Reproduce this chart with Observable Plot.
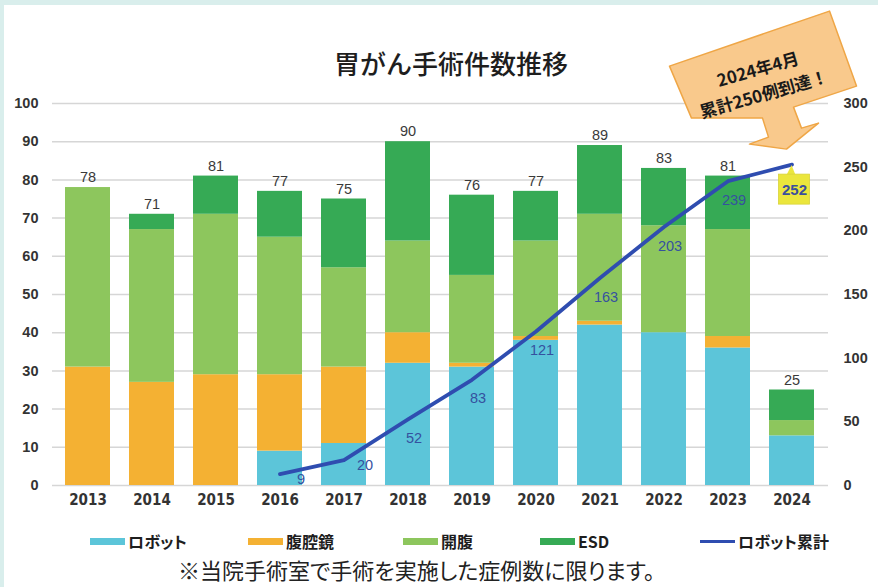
<!DOCTYPE html>
<html>
<head>
<meta charset="utf-8">
<script src="https://cdn.jsdelivr.net/npm/d3@7"></script>
<script src="https://cdn.jsdelivr.net/npm/@observablehq/plot@0.6"></script>
<style>
html,body{margin:0;padding:0;}
body{width:878px;height:587px;background:#d9eeec;position:relative;overflow:hidden;font-family:"Noto Sans CJK JP",sans-serif;}
#card{position:absolute;left:4px;top:5px;right:0;bottom:0;background:#fff;}
#title{position:absolute;left:0;width:902px;top:46px;text-align:center;font-size:26px;line-height:34px;color:#1e1e1e;font-weight:500;}
#chart{position:absolute;left:0;top:90px;}
#chart svg{overflow:visible;}
#chart g[aria-label="x-axis tick label"]{font-family:"DejaVu Sans",sans-serif;font-stretch:condensed;font-weight:bold;font-size:15px;fill:#333;}
#chart g[aria-label="y-axis tick label"]{font-family:"Liberation Sans",sans-serif;font-weight:bold;font-size:14.5px;fill:#333;}
.lg{position:absolute;top:529px;height:24px;display:flex;align-items:center;font-size:16px;font-weight:bold;color:#1e1e1e;font-feature-settings:"palt";}
.sw{width:35px;height:7px;margin-right:3px;}
.ln{width:35px;height:3px;margin-right:3px;}
#caption{position:absolute;left:178px;top:556px;font-size:22px;line-height:26px;color:#222;font-feature-settings:"palt";white-space:nowrap;}
</style>
</head>
<body>
<div id="card"></div>
<div id="title">胃がん手術件数推移</div>
<div id="chart"></div>
<div id="legend"></div>
<div id="caption">※当院手術室で手術を実施した症例数に限ります。</div>
<script>
// ---- data ----
const years = ["2013","2014","2015","2016","2017","2018","2019","2020","2021","2022","2023","2024"];
const seriesNames = ["ロボット","腹腔鏡","開腹","ESD"];
const seriesColors = ["#5cc5d9","#f4b133","#8dc65d","#36aa55"];
const robot = [0,0,0,9,11,32,31,38,42,40,36,13];
const lap   = [31,27,29,20,20,8,1,1,1,0,3,0];
const open  = [47,40,42,36,26,24,23,25,28,28,28,4];
const esd   = [0,4,10,12,18,26,21,13,18,15,14,8];
const totals = [78,71,81,77,75,90,76,77,89,83,81,25];
const cumulative = [null,null,null,9,20,52,83,121,163,203,239,252];
const cumName = "ロボット累計";
const lineColor = "#2f4db0";
const leftTicks = [0,10,20,30,40,50,60,70,80,90,100];
const rightTicks = [0,50,100,150,200,250,300];
const calloutLines = ["2024年4月","累計250例到達！"];

// ---- build tables ----
const seriesValues = [robot, lap, open, esd];
const stackData = [];
seriesNames.forEach((s, k) => years.forEach((y, i) => stackData.push({year: y, series: s, value: seriesValues[k][i]})));
const totalData = years.map((y, i) => ({year: y, total: totals[i]}));
const cumData = years.map((y, i) => ({year: y, cum: cumulative[i]})).filter(d => d.cum != null);
const cumEarly = cumData.slice(0, 2);
const cumMid = cumData.slice(2, cumData.length - 1);
const cumLast = cumData[cumData.length - 1];

const chart = Plot.plot({
  width: 878, height: 430,
  marginTop: 13, marginBottom: 35, marginLeft: 52, marginRight: 50,
  x: {domain: years, paddingInner: 0.29, paddingOuter: 0.15},
  y: {domain: [0, 100]},
  color: {domain: seriesNames, range: seriesColors},
  style: {background: "transparent", color: "#333", fontFamily: "Liberation Sans, sans-serif", overflow: "visible"},
  marks: [
    Plot.gridY(leftTicks, {stroke: "#d6d6d6", strokeOpacity: 1, strokeWidth: 1.5}),
    Plot.barY(stackData, {x: "year", y: "value", fill: "series", order: null}),
    Plot.axisX({tickSize: 0, tickPadding: 9, label: null, fontSize: 15, fontWeight: "bold"}),
    Plot.axisY(leftTicks, {anchor: "left", tickSize: 0, tickPadding: 14, label: null, fontSize: 14.5, fontWeight: "bold"}),
    Plot.axisY(rightTicks.map(v => v / 3), {anchor: "right", tickSize: 0, tickPadding: 15, label: null,
      tickFormat: d => String(Math.round(d * 3)), fontSize: 14.5, fontWeight: "bold"}),
    Plot.text(totalData, {x: "year", y: "total", text: d => String(d.total), dy: -10, fontSize: 14.5, fill: "#3a3a3a"}),
    Plot.text(cumEarly, {x: "year", y: d => d.cum / 3, text: d => String(d.cum), dx: 21, dy: 5, fontSize: 14.5, fill: "#35519f"}),
    Plot.text(cumMid, {x: "year", y: d => d.cum / 3, text: d => String(d.cum), dx: 6, dy: 19, fontSize: 14.5, fill: "#35519f"}),
    Plot.line(cumData, {x: "year", y: d => d.cum / 3, stroke: lineColor, strokeWidth: 3.8})
  ]
});
document.getElementById("chart").appendChild(chart);

// ---- callouts anchored to the last cumulative point ----
const sx = chart.scale("x"), sy = chart.scale("y");
const px = sx.apply(cumLast.year) + (sx.bandwidth || 0) / 2;
const py = sy.apply(cumLast.cum / 3);
const svg = d3.select(chart);
const g = svg.append("g").attr("transform", `translate(${px},${py})`);
// label box for last value
g.append("path").attr("d", "M-5,11 L0,1 L4,11 Z").attr("fill", "#ebe63c");
g.append("rect").attr("x", -13).attr("y", 10).attr("width", 31).attr("height", 30)
  .attr("fill", "#ebe63c").attr("stroke", "#d9d33a").attr("stroke-width", 0.8);
g.append("text").attr("x", 3).attr("y", 25).attr("text-anchor", "middle").attr("dominant-baseline", "central")
  .attr("font-family", "Liberation Sans, sans-serif").attr("font-weight", "bold").attr("font-size", 15)
  .attr("fill", "#3a4f9c").text(String(cumLast.cum));
// orange arrow callout
const pts = [[-122,-98],[38,-153],[65,-78],[2,-57],[10,-36],[27,-41],[-5,-15],[-42,-20],[-23,-27],[-29,-46],[-100,-46]];
g.append("polygon").attr("points", pts.map(p => p.join(",")).join(" "))
  .attr("fill", "#f9c98c").attr("stroke", "#efa646").attr("stroke-width", 1.5).attr("stroke-linejoin", "round");
const tpos = [[-34,-96],[-28,-71]];
calloutLines.forEach((t, i) => {
  g.append("text").attr("transform", `translate(${tpos[i][0]},${tpos[i][1]}) rotate(-16)`)
    .attr("text-anchor", "middle").attr("dominant-baseline", "central")
    .attr("font-family", "Noto Sans CJK JP, sans-serif").attr("font-weight", "bold").attr("font-size", 17)
    .attr("fill", "#1a1a1a").text(t);
});

// ---- legend ----
const legend = document.getElementById("legend");
const legendX = [90, 248, 403, 540, 700];
seriesNames.forEach((s, i) => {
  const d = document.createElement("div");
  d.className = "lg"; d.style.left = legendX[i] + "px";
  d.innerHTML = `<div class="sw" style="background:${seriesColors[i]}"></div><span>${s}</span>`;
  legend.appendChild(d);
});
const dl = document.createElement("div");
dl.className = "lg"; dl.style.left = legendX[4] + "px";
dl.innerHTML = `<div class="ln" style="background:${lineColor}"></div><span>${cumName}</span>`;
legend.appendChild(dl);
</script>
</body>
</html>
